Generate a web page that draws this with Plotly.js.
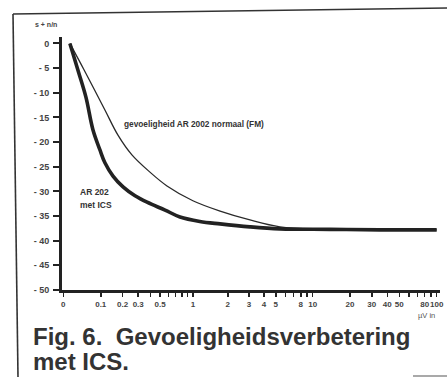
<!DOCTYPE html>
<html>
<head>
<meta charset="utf-8">
<script src="https://cdn.plot.ly/plotly-3.0.1.min.js"></script>
<style>html,body{margin:0;padding:0;background:#fff;}#chart{width:447px;height:377px;}</style>
</head>
<body>
<div id="chart"></div>
<script>
// Axis of the original is log(V + 0.1): "0" sits one decade below 1
const V_OFFSET = 0.1;

// Thick curve: AR 202 met ICS
const icsV  = [0.013, 0.031, 0.052, 0.073, 0.097, 0.116, 0.151, 0.202, 0.277, 0.371, 0.557, 0.766, 1.15, 1.72, 3.06, 5.41, 13.8, 35, 100];
const icsDb = [0, -5.4, -10.9, -17.5, -21.6, -24.2, -26.9, -29.1, -30.9, -32.2, -33.8, -35.2, -36.1, -36.6, -37.2, -37.6, -37.7, -37.8, -37.8];

// Thin curve: gevoeligheid AR 2002 normaal (FM)
const normV  = [0.013, 0.047, 0.116, 0.175, 0.256, 0.397, 0.581, 1.00, 1.72, 3.06, 5.41, 11.45, 35, 100];
const normDb = [0, -5.4, -13.5, -18.6, -22.6, -26.1, -28.9, -31.9, -34.0, -35.8, -37.2, -37.7, -37.8, -37.8];

// Tick labels
const xTickVals  = [0, 0.1, 0.2, 0.3, 0.5, 1, 2, 3, 4, 5, 8, 10, 20, 30, 40, 50, 80, 100];
const xTickText  = ['0', '0.1', '0.2', '0.3', '0.5', '1', '2', '3', '4', '5', '8', '10', '20', '30', '40', '50', '80', '100'];
const xMinorVals = [0.4, 0.6, 0.7, 0.8, 0.9, 6, 7, 9, 60, 70, 90];
const yTickVals  = [0, -5, -10, -15, -20, -25, -30, -35, -40, -45, -50];
const yTickText  = ['0', '- 5', '- 10', '- 15', '- 20', '- 25', '- 30', '- 35', '- 40', '- 45', '- 50'];

const shift = a => a.map(v => v + V_OFFSET);

const ink = '#222';
const FONT = 'Liberation Sans, Arial, sans-serif';

const traces = [
  {x: shift(normV), y: normDb, type: 'scatter', mode: 'lines', line: {color: '#2a2a2a', width: 1.3, shape: 'spline', smoothing: 1}, hoverinfo: 'skip'},
  {x: shift(icsV), y: icsDb, type: 'scatter', mode: 'lines', line: {color: ink, width: 3.6, shape: 'spline', smoothing: 1}, hoverinfo: 'skip'}
];

const L = 62, R = 7, T = 37, B = 87, W = 447, H = 377;
const pw = W - L - R, ph = H - T - B;
const px = x => (x - L) / pw;
const py = y => (H - B - y) / ph;

const layout = {
  width: W, height: H,
  margin: {l: L, r: R, t: T, b: B, pad: 0},
  paper_bgcolor: '#fff', plot_bgcolor: '#fff',
  showlegend: false,
  xaxis: {
    type: 'log',
    range: [-1.0104, 2.027],
    tickmode: 'array', tickvals: shift(xTickVals), ticktext: xTickText, tickangle: 0,
    ticks: 'outside', ticklen: 4, tickwidth: 1.5, tickcolor: ink,
    minor: {tickmode: 'array', tickvals: shift(xMinorVals), ticks: 'outside', ticklen: 4, tickwidth: 1.5, tickcolor: ink},
    showline: true, linecolor: ink, linewidth: 3,
    showgrid: false, zeroline: false,
    tickfont: {family: FONT, size: 8, color: '#444', weight: 'bold'}, ticklabelstandoff: 0
  },
  yaxis: {
    range: [-50, 1.3],
    tickmode: 'array', tickvals: yTickVals, ticktext: yTickText,
    ticks: 'outside', ticklen: 6, tickwidth: 2, tickcolor: ink,
    showline: true, linecolor: ink, linewidth: 3,
    showgrid: false, zeroline: false,
    tickfont: {family: FONT, size: 9, color: '#444', weight: 'bold'}, ticklabelstandoff: 2
  },
  annotations: [
    {text: 'gevoeligheid AR 2002 normaal (FM)', xref: 'paper', yref: 'paper', x: px(122), y: py(124), xanchor: 'left', yanchor: 'middle', showarrow: false, font: {family: FONT, size: 8.3, color: '#333', weight: 'bold'}},
    {text: 'AR 202', xref: 'paper', yref: 'paper', x: px(78), y: py(192), xanchor: 'left', yanchor: 'middle', showarrow: false, font: {family: FONT, size: 8.5, color: '#333', weight: 'bold'}},
    {text: 'met ICS', xref: 'paper', yref: 'paper', x: px(78), y: py(205), xanchor: 'left', yanchor: 'middle', showarrow: false, font: {family: FONT, size: 8.5, color: '#333', weight: 'bold'}},
    {text: 's + n/n', xref: 'paper', yref: 'paper', x: px(33), y: py(24), xanchor: 'left', yanchor: 'middle', showarrow: false, font: {family: FONT, size: 7, color: '#444', weight: 'bold'}},
    {text: 'µV in', xref: 'paper', yref: 'paper', x: px(437), y: py(315), xanchor: 'right', yanchor: 'middle', showarrow: false, font: {family: FONT, size: 7.5, color: '#555'}},
    {text: 'Fig. 6.  Gevoeligheidsverbetering', xref: 'paper', yref: 'paper', x: px(31), y: py(336), xanchor: 'left', yanchor: 'middle', showarrow: false, font: {family: FONT, size: 24, color: '#333', weight: 'bold'}},
    {text: 'met ICS.', xref: 'paper', yref: 'paper', x: px(31), y: py(361), xanchor: 'left', yanchor: 'middle', showarrow: false, font: {family: FONT, size: 24, color: '#333', weight: 'bold'}}
  ],
  shapes: [
    {type: 'line', xref: 'paper', yref: 'paper', x0: px(13), y0: py(14), x1: px(18), y1: py(377), line: {color: '#333', width: 1.6}},
    {type: 'line', xref: 'paper', yref: 'paper', x0: px(13), y0: py(14), x1: px(447), y1: py(8), line: {color: '#333', width: 1.6}},
    {type: 'line', xref: 'paper', yref: 'paper', x0: px(413), y0: py(376), x1: px(447), y1: py(376), line: {color: '#555', width: 1.2}}
  ]
};

Plotly.newPlot('chart', traces, layout, {displayModeBar: false, staticPlot: true});
</script>
</body>
</html>
